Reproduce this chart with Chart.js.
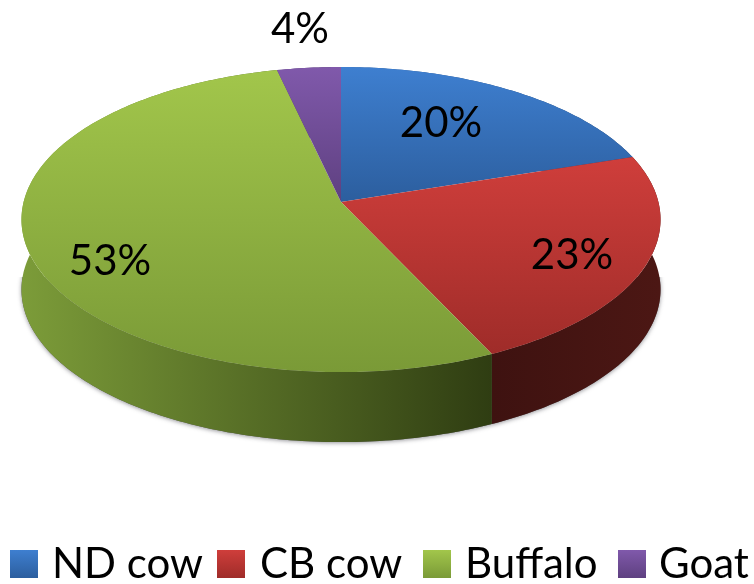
<!DOCTYPE html>
<html>
<head>
<meta charset="utf-8">
<script src="https://cdn.jsdelivr.net/npm/chart.js@4"></script>
<style>
  html, body { margin: 0; padding: 0; background: #fff; overflow: hidden; }
  .chart-box { width: 754px; height: 584px; }
</style>
</head>
<body>
<div class="chart-box"><canvas id="milkChart"></canvas></div>
<script>
  // Datos
  const categories = ["ND cow", "CB cow", "Buffalo", "Goat"];
  const shares = [20, 23, 53.4, 3.6];

  // Colores: cara superior (arriba, abajo) y pared lateral (izquierda, derecha)
  const topColors = [["#3e7fd0", "#2c5e9e"], ["#cf3e3b", "#9f2c29"], ["#a2c64b", "#7a9a37"], ["#8059ab", "#5e4080"]];
  const wallColors = [["#2c5e9e", "#1c3c66"], ["#3e1210", "#4c1714"], ["#7c9c39", "#2f3d12"], ["#5e4080", "#3c2852"]];

  // Proyeccion de la tarta en perspectiva
  const view = { x: 341, y: 202, c: 317.4, a: 127.3, k: -0.115, depth: 70 };
  // Centro de cada etiqueta de porcentaje
  const labelSpots = [[441, 123], [572, 255], [110, 261], [300, 29]];
  // Leyenda: x del cuadro y x del texto
  const legendBoxX = [10, 217, 423, 618];
  const legendTextX = [52, 260, 465, 659];
  const legendRow = { top: 550, size: 28, baseline: 578 };

  function project(angle, r, drop) {
    const u = Math.cos(angle) * r;
    const v = Math.sin(angle) * r;
    const d = 1 + view.k * v;
    return [view.x + view.c * u / d, (view.y + view.a * v) / d + drop];
  }

  function rim(ctx, start, end, drop, first) {
    const n = Math.max(2, Math.ceil(Math.abs(end - start) * 60));
    for (let i = 0; i <= n; i++) {
      const p = project(start + (end - start) * i / n, 1, drop);
      if (i === 0 && first) ctx.moveTo(p[0], p[1]);
      else ctx.lineTo(p[0], p[1]);
    }
  }

  function gradientFor(ctx, x0, y0, x1, y1, stops) {
    const g = ctx.createLinearGradient(x0, y0, x1, y1);
    g.addColorStop(0, stops[0]);
    g.addColorStop(1, stops[1]);
    return g;
  }

  function sampleRange(start, end) {
    const xs = [], ys = [];
    for (let i = 0; i <= 40; i++) {
      const p = project(start + (end - start) * i / 40, 1, 0);
      xs.push(p[0]); ys.push(p[1]);
    }
    return { minX: Math.min(...xs), maxX: Math.max(...xs), minY: Math.min(...ys), maxY: Math.max(...ys) };
  }

  function wallPath(ctx, arc) {
    ctx.beginPath();
    rim(ctx, arc.startAngle, arc.endAngle, 0, true);
    rim(ctx, arc.endAngle, arc.startAngle, view.depth, false);
    ctx.closePath();
  }

  const pie3d = {
    id: "pie3d",
    beforeDatasetDraw(chart) {
      const ctx = chart.ctx;
      const arcs = chart.getDatasetMeta(0).data;

      // Sombra, solo por debajo del borde inferior
      ctx.save();
      ctx.beginPath();
      ctx.rect(0, view.y + 75, chart.width, chart.height);
      ctx.clip();
      ctx.shadowColor = "rgba(60,60,70,0.55)";
      ctx.shadowBlur = 4;
      ctx.shadowOffsetY = 1;
      ctx.fillStyle = "#555";
      arcs.forEach((arc) => {
        wallPath(ctx, arc);
        ctx.fill();
      });
      ctx.restore();

      // Pared lateral
      arcs.forEach((arc, i) => {
        const box = sampleRange(arc.startAngle, arc.endAngle);
        wallPath(ctx, arc);
        ctx.fillStyle = gradientFor(ctx, box.minX, 0, box.maxX, 0, wallColors[i]);
        ctx.fill();
      });

      // Cara superior
      arcs.forEach((arc, i) => {
        const box = sampleRange(arc.startAngle, arc.endAngle);
        const top = Math.min(box.minY, view.y);
        const bottom = Math.max(box.maxY, view.y);
        ctx.beginPath();
        ctx.moveTo(view.x, view.y);
        rim(ctx, arc.startAngle, arc.endAngle, 0, false);
        ctx.closePath();
        ctx.fillStyle = gradientFor(ctx, 0, top, 0, bottom, topColors[i]);
        ctx.fill();
      });

      // Etiquetas de porcentaje
      const total = shares.reduce((s, v) => s + v, 0);
      ctx.fillStyle = "#000";
      ctx.font = "42px Lato";
      ctx.textAlign = "center";
      ctx.textBaseline = "middle";
      shares.forEach((v, i) => {
        ctx.fillText(Math.round(v / total * 100) + "%", labelSpots[i][0], labelSpots[i][1]);
      });

      // Leyenda
      ctx.textAlign = "left";
      ctx.textBaseline = "alphabetic";
      categories.forEach((name, i) => {
        ctx.fillStyle = gradientFor(ctx, 0, legendRow.top, 0, legendRow.top + legendRow.size, topColors[i]);
        ctx.fillRect(legendBoxX[i], legendRow.top, legendRow.size, legendRow.size);
        ctx.fillStyle = "#000";
        ctx.fillText(name, legendTextX[i], legendRow.baseline);
      });
      return false;
    },
  };

  new Chart(document.getElementById("milkChart"), {
    type: "pie",
    data: {
      labels: categories,
      datasets: [{ data: shares, backgroundColor: topColors.map((c) => c[0]), borderWidth: 0 }],
    },
    options: {
      responsive: true,
      maintainAspectRatio: false,
      animation: false,
      plugins: {
        tooltip: { enabled: false },
        legend: { display: false },
      },
    },
    plugins: [pie3d],
  });
</script>
</body>
</html>
